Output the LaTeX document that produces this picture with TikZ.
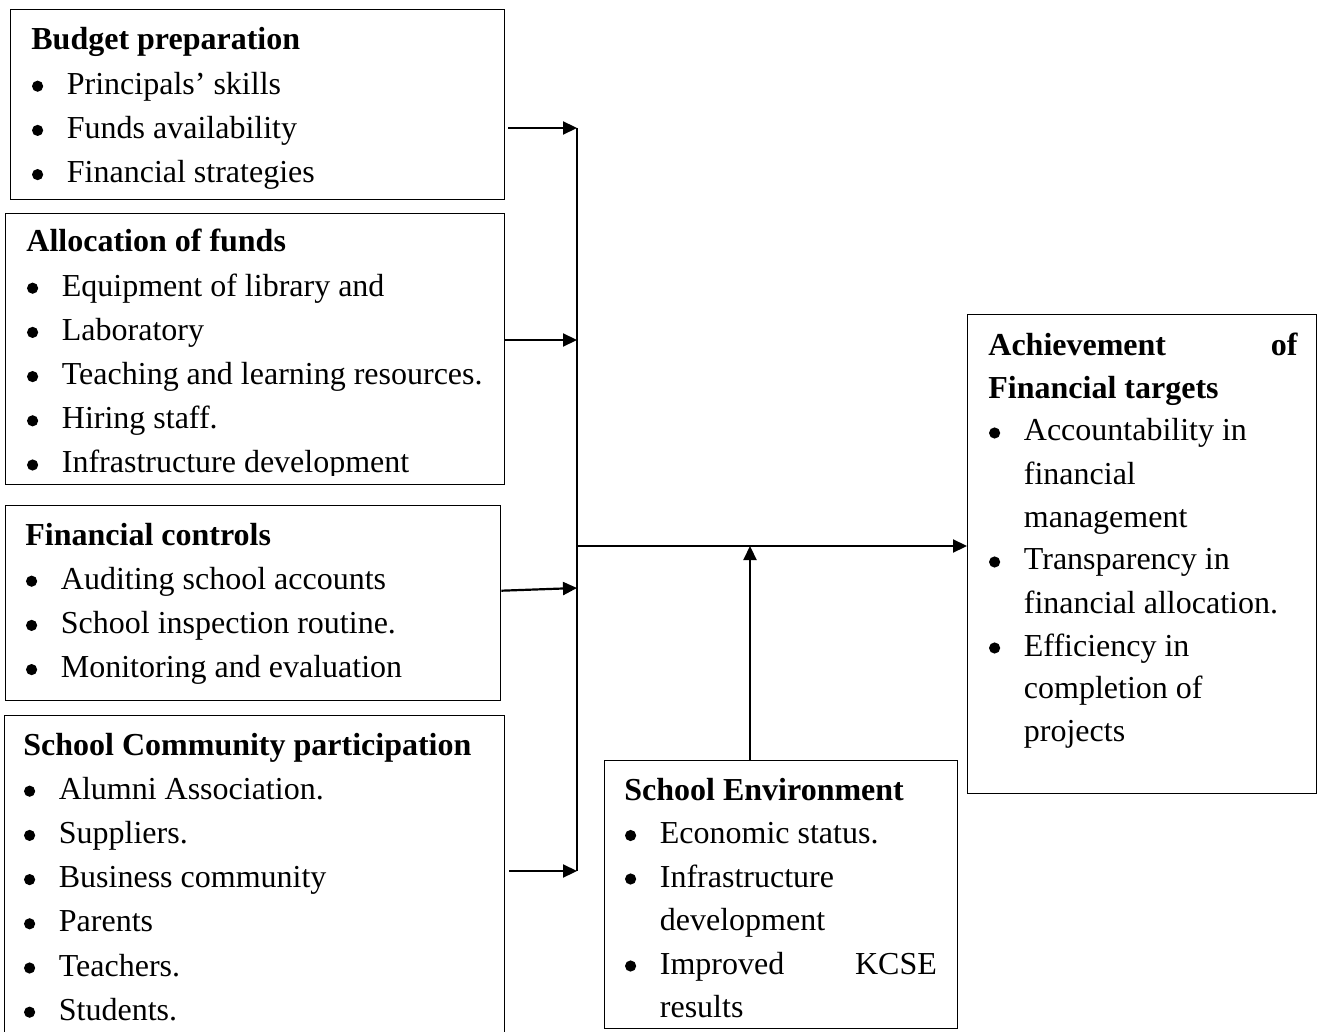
\documentclass[tikz,border=0pt]{standalone}
\usepackage{fontspec}
\setmainfont{Liberation Serif}
\usepackage{tikz}
\usetikzlibrary{arrows.meta}
\tikzset{>={Triangle[length=7pt,width=6.5pt]}}
\tikzset{panel/.style={draw=black, line width=0.7pt, rectangle, anchor=north west, inner sep=0pt}}
\tikzset{listtext/.style={anchor=base west, inner sep=0pt, font=\fontsize{16pt}{22.1pt}\selectfont}}
\tikzset{flow/.style={->, line width=1.1pt}}
\newcommand{\bdot}{\hspace*{0.3pt}\tikz[baseline=0pt, reset cm, x=1pt, y=1pt]\fill[black] (0,4) circle (2.8);}
\newcommand{\bitem}[1]{\makebox[17.75pt][l]{\bdot}#1}
\newcommand{\bcont}[1]{\hspace*{17.75pt}#1}

\begin{document}
\begin{tikzpicture}[x=0.5pt, y=-0.5pt]
\clip (0,0) rectangle (1317,1032);
% boxes
\node[panel, minimum width=247pt, minimum height=95pt] (budget) at (10,9) {};
\node[panel, minimum width=249.5pt, minimum height=135.5pt] (alloc) at (5,213) {};
\node[panel, minimum width=247.5pt, minimum height=97.5pt] (controls) at (5,505) {};
\node[panel, minimum width=250pt, minimum height=170pt] (community) at (4,715) {};
\node[panel, minimum width=176.5pt, minimum height=134pt] (environment) at (604,760) {};
\node[panel, minimum width=174.5pt, minimum height=239.5pt] (achieve) at (967,314) {};
% texts
\node[listtext] (budgettext) at (31,50) {\begin{tabular}[t]{@{}l@{}}
\textbf{Budget preparation}\\
\bitem{Principals' skills}\\
\bitem{Funds availability}\\
\bitem{Financial strategies}
\end{tabular}};
\begin{scope}
\clip (5,213) rectangle (504,475);
\node[listtext] (alloctext) at (26,252) {\begin{tabular}[t]{@{}l@{}}
\textbf{Allocation of funds}\\
\bitem{Equipment of library and}\\
\bitem{Laboratory}\\
\bitem{Teaching and learning resources.}\\
\bitem{Hiring staff.}\\
\bitem{Infrastructure development}
\end{tabular}};
\end{scope}
\node[listtext] (controlstext) at (25,545) {\begin{tabular}[t]{@{}l@{}}
\textbf{Financial controls}\\
\bitem{Auditing school accounts}\\
\bitem{School inspection routine.}\\
\bitem{Monitoring and evaluation}
\end{tabular}};
\node[listtext] (communitytext) at (23,755) {\begin{tabular}[t]{@{}l@{}}
\textbf{School Community participation}\\
\bitem{Alumni Association.}\\
\bitem{Suppliers.}\\
\bitem{Business community}\\
\bitem{Parents}\\
\bitem{Teachers.}\\
\bitem{Students.}
\end{tabular}};
\node[listtext, font=\fontsize{16pt}{21.75pt}\selectfont] (environmenttext) at (624,800) {\begin{tabular}[t]{@{}l@{}}
\textbf{School Environment}\\
\bitem{Economic status.}\\
\bitem{Infrastructure}\\
\bcont{development}\\
\bitem{\makebox[138.5pt]{Improved\hfill KCSE}}\\
\bcont{results}
\end{tabular}};
\node[listtext, font=\fontsize{16pt}{21.5pt}\selectfont] (achievetext) at (988,355) {\begin{tabular}[t]{@{}l@{}}
\textbf{\makebox[154.5pt]{Achievement\hfill of}}\\
\textbf{Financial targets}\\
\bitem{Accountability in}\\
\bcont{financial}\\
\bcont{management}\\
\bitem{Transparency in}\\
\bcont{financial allocation.}\\
\bitem{Efficiency in}\\
\bcont{completion of}\\
\bcont{projects}
\end{tabular}};
% connectors
\coordinate (in1) at (577,128);
\coordinate (in2) at (577,340);
\coordinate (in3) at (577,588);
\coordinate (in4) at (577,871);
\coordinate (join) at (577,546);
\coordinate (envjoin) at (750,546);
\draw[line width=1.1pt] (in1) -- (in4);
\draw[flow, shorten <=1.5pt] (budget.east |- in1) -- (in1);
\draw[flow] (alloc.east |- in2) -- (in2);
\draw[flow] ([yshift=6.25pt]controls.east) -- (in3);
\draw[flow, shorten <=2pt] (community.east |- in4) -- (in4);
\draw[flow] (join) -- (achieve.west |- join);
\draw[flow] (environment.north -| envjoin) -- (envjoin);
\end{tikzpicture}
\end{document}
